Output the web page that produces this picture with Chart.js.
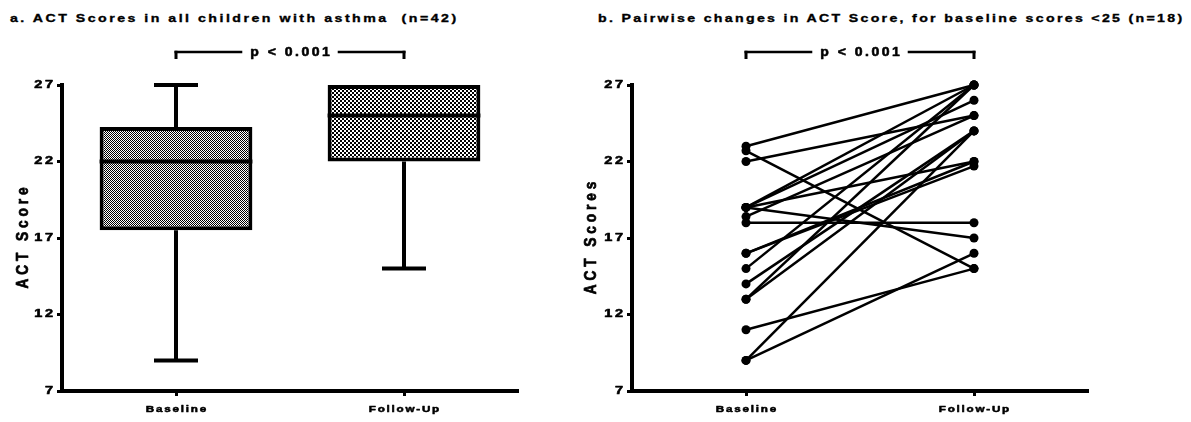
<!DOCTYPE html>
<html>
<head>
<meta charset="utf-8">
<script src="https://cdn.jsdelivr.net/npm/chart.js@4.4.1/dist/chart.umd.min.js"></script>
<style>
  html, body { margin: 0; padding: 0; background: #fff; }
  #wrap { position: relative; width: 1191px; height: 422px; overflow: hidden; }
  .ttl {
    position: absolute; top: 12px; margin: 0;
    font: bold 11.6px/12px "Liberation Sans", Arial, Helvetica, sans-serif;
    white-space: pre; color: #000;
    -webkit-text-stroke: 0.35px #000;
    transform-origin: 0 0; transform: scaleX(1.22);
  }
  .pane { position: absolute; top: 0; height: 422px; }
  canvas { display: block; }
</style>
</head>
<body>
<div id="wrap">
  <div class="ttl" style="left:10px;letter-spacing:2.05px">a. ACT Scores in all children with asthma  (n=42)</div>
  <div class="ttl" style="left:598px;letter-spacing:1.9px">b. Pairwise changes in ACT Score, for baseline scores &lt;25 (n=18)</div>
  <div class="pane" style="left:0;width:560px"><canvas id="boxChart" width="560" height="422"></canvas></div>
  <div class="pane" style="left:560px;width:631px"><canvas id="pairChart" width="631" height="422"></canvas></div>
</div>
<script>
// ---- data ----
const groups = ['Baseline', 'Follow-Up'];
const yTicks = [7, 12, 17, 22, 27];

// five-number summaries for all children (n=42)
const boxMin = [9, 15];
const boxQ1 = [17.5, 22];
const boxMedian = [22, 25];
const boxQ3 = [24.25, 27];
const boxMax = [27, 27];

// paired scores, baseline < 25 (n=18)
const baselineScores = [23, 22.7, 22, 19, 19, 19, 19, 18.4, 18, 16, 16, 15, 14, 13, 13, 11, 9, 9];
const followUpScores = [27, 15, 25, 27, 26, 22, 17, 25, 18, 22, 21.7, 27, 24, 27, 24, 15, 16, 24];

const pLabel = 'p < 0.001';

// ---- styling helpers ----
const FONT = '"Liberation Sans", Arial, Helvetica, sans-serif';
const SIZE_YTICK = 10, SIZE_XTICK = 9.9, SIZE_YTITLE = 12.5, SIZE_P = 12.4;
// font size -> [stretch along text, stretch across text, letter spacing]
const textLook = {
  [SIZE_YTICK]: [1.45, 1, 1.8],
  [SIZE_XTICK]: [1.18, 1, 1.5],
  [SIZE_YTITLE]: [1.1, 1.3, 3.5],
  [SIZE_P]: [1.13, 1, 2.2]
};

// wide, heavy lettering for every label drawn on the charts
const wideText = {
  id: 'wideText',
  beforeInit(chart) {
    const ctx = chart.ctx;
    const fill = CanvasRenderingContext2D.prototype.fillText;
    const stroke = CanvasRenderingContext2D.prototype.strokeText;
    ctx.fillText = function (text, x, y) {
      const m = /([\d.]+)px/.exec(this.font);
      const look = textLook[m ? parseFloat(m[1]) : 0] || [1, 1, 0];
      const sx = look[0], sy = look[1], sp = look[2];
      const trail = this.textAlign === 'right' ? sp : (this.textAlign === 'center' ? sp / 2 : 0);
      this.save();
      this.letterSpacing = sp + 'px';
      this.translate(x, y);
      this.scale(sx, sy);
      fill.call(this, text, trail, 0);
      this.strokeStyle = this.fillStyle;
      this.lineWidth = 0.55;
      this.lineJoin = 'round';
      stroke.call(this, text, trail, 0);
      this.restore();
    };
  }
};

function checker(cell, ink) {
  const c = document.createElement('canvas');
  c.width = c.height = cell * 2;
  const g = c.getContext('2d');
  g.fillStyle = '#fff';
  g.fillRect(0, 0, c.width, c.height);
  g.fillStyle = ink;
  g.fillRect(0, 0, cell, cell);
  g.fillRect(cell, cell, cell, cell);
  return document.getElementById('boxChart').getContext('2d').createPattern(c, 'repeat');
}

const bracket = {
  id: 'bracket',
  afterDraw(chart, args, o) {
    const { ctx } = chart;
    const x = chart.scales.x;
    const x0 = x.getPixelForValue(0), x1 = x.getPixelForValue(1);
    const xm = (x0 + x1) / 2;
    const look = textLook[SIZE_P];
    ctx.save();
    ctx.font = 'bold ' + SIZE_P + 'px ' + FONT;
    ctx.letterSpacing = look[2] + 'px';
    const tw = (ctx.measureText(o.text).width - look[2]) * look[0];
    ctx.letterSpacing = '0px';
    ctx.strokeStyle = '#000';
    ctx.lineCap = 'butt';
    ctx.lineWidth = 2.5;
    ctx.beginPath();
    ctx.moveTo(x0 - 1.5, o.y); ctx.lineTo(xm - tw / 2 - 8, o.y);
    ctx.moveTo(xm + tw / 2 + 8, o.y); ctx.lineTo(x1 + 1.5, o.y);
    ctx.stroke();
    ctx.lineWidth = 3;
    ctx.beginPath();
    ctx.moveTo(x0, o.y - 1.2); ctx.lineTo(x0, o.y + o.drop);
    ctx.moveTo(x1, o.y - 1.2); ctx.lineTo(x1, o.y + o.drop);
    ctx.stroke();
    ctx.fillStyle = '#000';
    ctx.textAlign = 'center';
    ctx.textBaseline = 'middle';
    ctx.fillText(o.text, xm, o.y + 0.5);
    ctx.restore();
  }
};

const whiskers = {
  id: 'whiskers',
  afterDatasetsDraw(chart, args, o) {
    const { ctx } = chart;
    const x = chart.scales.x, y = chart.scales.y;
    const meta = chart.getDatasetMeta(0);
    ctx.save();
    ctx.strokeStyle = '#000';
    ctx.lineWidth = o.lineWidth;
    ctx.lineCap = 'butt';
    groups.forEach((g, i) => {
      const xc = x.getPixelForValue(i);
      const bw = meta.data[i].width;
      const yQ1 = y.getPixelForValue(boxQ1[i]);
      const yQ3 = y.getPixelForValue(boxQ3[i]);
      const yMed = y.getPixelForValue(boxMedian[i]);
      const yLo = y.getPixelForValue(boxMin[i]);
      const yHi = y.getPixelForValue(boxMax[i]);
      ctx.beginPath();
      if (boxMax[i] > boxQ3[i]) {
        ctx.moveTo(xc, yQ3); ctx.lineTo(xc, yHi);
        ctx.moveTo(xc - o.cap / 2, yHi); ctx.lineTo(xc + o.cap / 2, yHi);
      }
      if (boxMin[i] < boxQ1[i]) {
        ctx.moveTo(xc, yQ1); ctx.lineTo(xc, yLo);
        ctx.moveTo(xc - o.cap / 2, yLo); ctx.lineTo(xc + o.cap / 2, yLo);
      }
      ctx.moveTo(xc - bw / 2, yMed); ctx.lineTo(xc + bw / 2, yMed);
      ctx.stroke();
    });
    ctx.restore();
  }
};

function axes(yTitle, yWidth, titlePad) {
  return {
    x: {
      type: 'category',
      offset: true,
      grid: { display: true, drawOnChartArea: false, drawTicks: true, offset: false,
              tickLength: 5, tickWidth: 3, tickColor: '#000', color: '#000' },
      border: { display: true, width: 4, color: '#000' },
      ticks: { color: '#000', padding: 7, font: { family: FONT, size: SIZE_XTICK, weight: 'bold' } },
      afterFit: s => { s.height = 31; }
    },
    y: {
      min: yTicks[0],
      max: yTicks[yTicks.length - 1],
      grid: { display: true, drawOnChartArea: false, drawTicks: true,
              tickLength: 5, tickWidth: 3, tickColor: '#000', color: '#000' },
      border: { display: true, width: 4, color: '#000' },
      ticks: { color: '#000', padding: 4, stepSize: yTicks[1] - yTicks[0],
               font: { family: FONT, size: SIZE_YTICK, weight: 'bold' } },
      title: { display: true, text: yTitle, color: '#000', padding: { top: titlePad, bottom: 0 },
               font: { family: FONT, size: SIZE_YTITLE, weight: 'bold' } },
      afterFit: s => { s.width = yWidth; }
    }
  };
}

const common = {
  responsive: false,
  animation: false,
  devicePixelRatio: 1,
  events: []
};

// ---- panel a: box plot ----
new Chart(document.getElementById('boxChart'), {
  type: 'bar',
  data: {
    labels: groups,
    datasets: [{
      data: groups.map((g, i) => [boxQ1[i], boxQ3[i]]),
      backgroundColor: [checker(1, '#000'), checker(2, '#000')],
      borderColor: '#000',
      borderWidth: 4,
      borderSkipped: false,
      barPercentage: 0.67,
      categoryPercentage: 1
    }]
  },
  options: Object.assign({}, common, {
    layout: { padding: { left: 0, right: 42, top: 85, bottom: 0 } },
    scales: axes('ACT Score', 62, 16),
    plugins: {
      legend: { display: false },
      tooltip: { enabled: false },
      whiskers: { lineWidth: 4, cap: 44 },
      bracket: { text: pLabel, y: 52, drop: 7 }
    }
  }),
  plugins: [wideText, whiskers, bracket]
});

// ---- panel b: paired lines ----
new Chart(document.getElementById('pairChart'), {
  type: 'line',
  data: {
    labels: groups,
    datasets: baselineScores.map((b, i) => ({
      data: [b, followUpScores[i]],
      borderColor: '#000',
      backgroundColor: '#000',
      borderWidth: 2.5,
      pointRadius: 4.5,
      pointHoverRadius: 4.5,
      pointBorderWidth: 0,
      pointBackgroundColor: '#000',
      tension: 0,
      clip: false
    }))
  },
  options: Object.assign({}, common, {
    layout: { padding: { left: 0, right: 103, top: 85, bottom: 0 } },
    scales: axes('ACT Scores', 72, 24),
    plugins: {
      legend: { display: false },
      tooltip: { enabled: false },
      bracket: { text: pLabel, y: 52, drop: 7 }
    }
  }),
  plugins: [wideText, bracket]
});
</script>
</body>
</html>
